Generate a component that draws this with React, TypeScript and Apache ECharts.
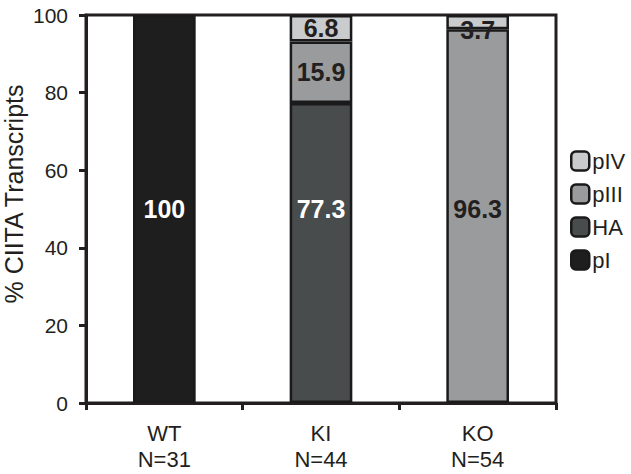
import React, { useEffect, useRef } from "react";
import * as echarts from "echarts";

const categories = ["WT\nN=31", "KI\nN=44", "KO\nN=54"];
const seriesNames = ["pI", "HA", "pIII", "pIV"];
const pI = [100, null, null];
const HA = [null, 77.3, null];
const pIII = [null, 15.9, 96.3];
const pIV = [null, 6.8, 3.7];
const yTicks = { min: 0, max: 100, interval: 20 };

const colors = ["#1e1e1e", "#484c4c", "#999b9c", "#c9cbcc"];
const labelColors = ["#ffffff", "#ffffff", "#231f20", "#231f20"];
const FONT = "'Liberation Sans', Arial, sans-serif";
const PLOT_H = 388;

export default function App() {
  const ref = useRef<HTMLDivElement>(null);
  useEffect(() => {
    if (!ref.current) return;
    const chart = echarts.init(ref.current, null, { renderer: "svg" });
    const all = [pI, HA, pIII, pIV];
    const build = (vals: (number | null)[], si: number) =>
      vals.map((v, ci) => {
        if (v == null) return null;
        let base = 0;
        for (let k = 0; k < si; k++) base += (all[k][ci] as number) || 0;
        const center = base + v / 2;
        let target = center;
        if (v > 30) target = 50;
        if (v < 5) target = center - 2;
        const off = ((center - target) / 100) * PLOT_H;
        return { value: v, label: { offset: [0, off] } };
      });
    const series = all.map((vals, si) => ({
      name: seriesNames[si],
      type: "bar",
      stack: "total",
      barWidth: "40%",
      data: build(vals, si),
      itemStyle: { color: colors[si], borderColor: "#1a1a1a", borderWidth: 2.5 },
      label: {
        show: true,
        position: "inside",
        color: labelColors[si],
        fontFamily: FONT,
        fontWeight: "bold",
        fontSize: 25,
        formatter: (p: any) => String(p.value),
      },
    }));
    chart.setOption({
      animation: false,
      backgroundColor: "#ffffff",
      grid: {
        left: 86,
        top: 15,
        width: 470,
        height: PLOT_H,
        outerBoundsMode: "none",
        containLabel: false,
        show: true,
        borderColor: "#231f20",
        borderWidth: 3,
        backgroundColor: "transparent",
      },
      legend: {
        orient: "vertical",
        left: 565,
        top: 145,
        itemWidth: 18,
        itemHeight: 19,
        itemGap: 11,
        data: ["pIV", "pIII", "HA", "pI"],
        itemStyle: { borderColor: "#1a1a1a", borderWidth: 2.5 },
        textStyle: { fontFamily: FONT, fontSize: 22, lineHeight: 22, color: "#231f20", padding: [0, 0, 0, -2] },
      },
      xAxis: {
        type: "category",
        data: categories,
        axisLine: { lineStyle: { color: "#231f20", width: 3 } },
        axisTick: { show: true, length: 7, lineStyle: { width: 3, color: "#231f20" } },
        axisLabel: {
          fontFamily: FONT,
          fontSize: 22,
          color: "#231f20",
          lineHeight: 26,
          margin: 17,
        },
      },
      yAxis: {
        type: "value",
        min: yTicks.min,
        max: yTicks.max,
        interval: yTicks.interval,
        name: "% CIITA Transcripts",
        nameLocation: "middle",
        nameGap: 60,
        nameMoveOverlap: false,
        nameTextStyle: { fontFamily: FONT, fontSize: 25, color: "#231f20", padding: [0, 0, 0, 30] },
        splitLine: { show: false },
        axisLine: { show: true, lineStyle: { color: "#231f20", width: 3 } },
        axisTick: { show: true, length: 7, lineStyle: { width: 3, color: "#231f20" } },
        axisLabel: { fontFamily: FONT, fontSize: 21, color: "#231f20", margin: 18 },
      },
      series,
    });
    return () => chart.dispose();
  }, []);
  return <div ref={ref} style={{ width: 631, height: 474, position: "absolute", left: 0, top: 0 }} />;
}
